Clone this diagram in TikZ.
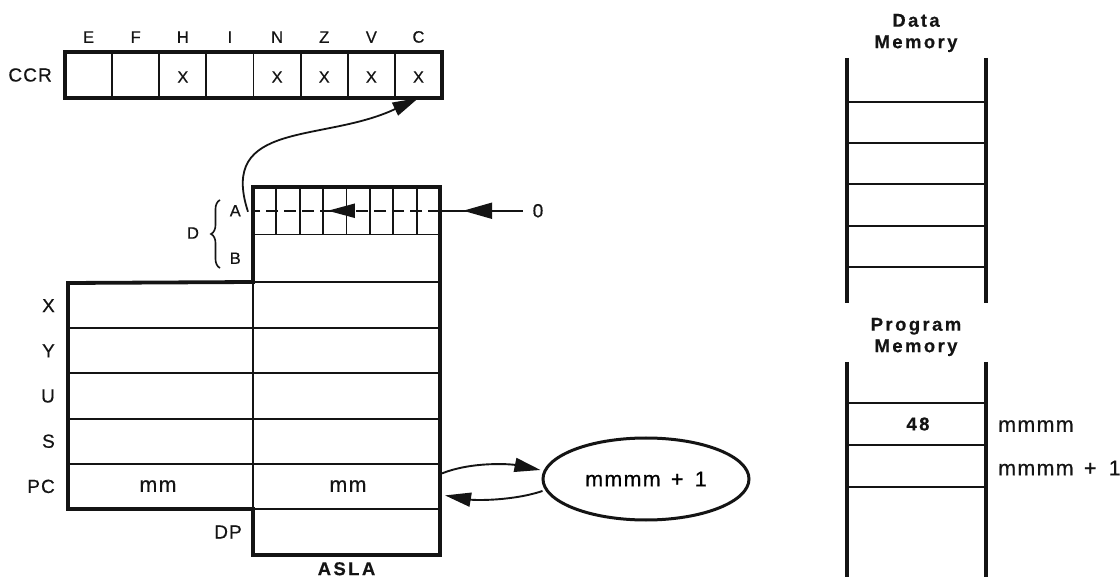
\documentclass[tikz,border=0pt]{standalone}
\usepackage{fontspec}
\setmainfont{Liberation Sans}[LetterSpace=6, FakeBold=0.5]
\usetikzlibrary{calc,positioning,arrows.meta,shapes.geometric,decorations.pathreplacing,decorations.markings}
\definecolor{rgink}{HTML}{141414}
\newcommand{\rgfont}{\fontsize{19}{22}\selectfont}
\newcommand{\rgsmall}{\fontsize{16.5}{19}\selectfont}
\newcommand{\rgwide}{\fontsize{21.5}{24}\selectfont}
\newcommand{\rgbold}{\fontsize{18.5}{21.5}\selectfont\bfseries\addfontfeatures{LetterSpace=13}}
\tikzset{
  rgheavy/.style={draw=rgink, line width=3.8pt},
  rglight/.style={draw=rgink, line width=1.9pt},
  rgtip/.style={-{Triangle[length=26pt,width=14pt]}},
  rgcell/.style={rglight, minimum width=47.125pt, minimum height=46pt, inner sep=0pt, outer sep=0pt},
  rgrow/.style={minimum width=372pt, minimum height=45.2pt, inner sep=0pt, outer sep=0pt},
  rghalf/.style={minimum width=187pt, minimum height=#1, inner sep=0pt, outer sep=0pt},
  rgtag/.style={font=\rgfont, inner sep=0pt, text=rgink},
}

\begin{document}
\begin{tikzpicture}[x=1pt,y=-1pt]
  \fill[white] (0,0) rectangle (1120,577);
  \useasboundingbox (0,0) rectangle (1120,577);

  % condition code register
  \foreach \f/\m [count=\i from 0] in {E/,F/,H/X,I/,N/X,Z/X,V/X,C/X}
    {\node[rgcell] (ccr\f) at ({88.6+47.125*\i},75) {};
     \node[rgtag, font=\rgsmall, above=9pt of ccr\f] (bit\f) {\f};
     \node[rgtag, font=\rgsmall] (mark\f) at ($(ccr\f)+(0,2)$) {\m};}
  \draw[rgheavy] (ccrE.north west) rectangle (ccrC.south east);
  \node[rgtag, left=13pt of ccrE] (ccrtag) {CCR};

  % accumulators A and B
  \node[rghalf=47.5pt] (regA) at (346.5,210.75) {};
  \node[rghalf=47.5pt, below=0pt of regA] (regB) {};
  \foreach \k in {1,...,7}
    {\draw[rglight] ($(regA.north west)+(23.375*\k,0)$) -- ($(regA.south west)+(23.375*\k,0)$);}
  \draw[rglight] (regA.south west) -- (regA.south east);
  \node[rgtag, font=\rgsmall, left=12pt of regA] (tagA) {A};
  \node[rgtag, font=\rgsmall, left=12pt of regB] (tagB) {B};
  \node[rgtag, font=\rgsmall] (tagD) at (193,233) {D};
  \draw[rgink, line width=1.6pt, decorate, decoration={brace, amplitude=9pt}]
    (220,268) -- (220,200);

  % index, stack and program registers
  \foreach \r [count=\i from 0] in {X,Y,U,S,PC}
    {\node[rgrow] (reg\r) at (254,{305.6+45.2*\i}) {};
     \node[rgtag, left=13pt of reg\r] (tag\r) {\r};}
  \foreach \r in {X,Y,U,S}
    {\draw[rglight] (reg\r.south west) -- (reg\r.south east);}
  \node[rghalf=46pt, below=0pt of regPC.south -| regA] (regDP) {};
  \draw[rglight] (regB.south west) -- (regB.south east);
  \draw[rglight] (regB.south west) -- (regDP.north west);
  \draw[rglight] (regDP.north west) -- (regDP.north east);
  \draw[rgheavy, line join=miter]
    (regA.north west) -- (regA.north east) -- (regDP.south east) -- (regDP.south west)
    -- (regDP.north west) -- (regPC.south west) -- (regX.north west) -- (regB.south west) -- cycle;
  \node[rgtag, left=11pt of regDP] (tagDP) {DP};
  \node[rgtag, font=\rgwide] (pchi) at (158,486) {mm};
  \node[rgtag, font=\rgwide] (pclo) at (348,486) {mm};
  \node[rgtag, font=\rgbold, below=7pt of regDP] (opname) {ASLA};

  % shift left, 0 in, bit 7 to carry
  \node[rgtag] (zero) at (538,210.75) {0};
  \draw[rglight, postaction={decorate}, decoration={markings,
        mark=at position 0.72 with {\arrow{Triangle[length=29pt,width=16pt]}}}]
    ($(zero.west)+(-10,0)$) -- (regA.east);
  \draw[rglight, dash pattern=on 12pt off 6pt, postaction={decorate}, decoration={markings,
        mark=at position 0.6 with {\arrow{Triangle[length=27pt,width=14pt]}}}]
    (regA.east) -- (regA.west);
  \draw[rglight, line width=1.8pt, rgtip]
    ($(regA.west)+(-5,1)$) .. controls +(-30,-92) and +(-95,45) .. (ccrC.south);

  % program counter increment
  \node[draw=rgink, line width=3pt, ellipse, minimum width=206pt, minimum height=82pt,
        inner sep=0pt, font=\rgwide] (inc) at (646,479) {mmmm\hspace{3pt} +\hspace{4pt} 1};
  \draw[rglight, rgtip] ($(regPC.east)+(2,-13)$) .. controls +(30,-12) and +(-30,-6) .. ($(inc.west)+(-1,-9)$);
  \draw[rglight, rgtip] ($(inc.west)+(1,12)$) .. controls +(-30,10) and +(30,5) .. ($(regPC.east)+(5,9)$);

  % data memory
  \node[rgtag, font=\rgbold, align=center] (dmtitle) at (916,33) {Data\\Memory};
  \draw[rgheavy] (847,58) -- (847,303) (986,58) -- (986,303);
  \foreach \y in {102,143,184,226,267}
    {\draw[rglight] (847,\y) -- (986,\y);}

  % program memory
  \node[rgtag, font=\rgbold, align=center] (pmtitle) at (916,337) {Program\\Memory};
  \draw[rgheavy] (847,362) -- (847,580) (986,362) -- (986,580);
  \foreach \y in {403,445,487}
    {\draw[rglight] (847,\y) -- (986,\y);}
  \node[rgtag, font=\rgbold] (opcode) at (918,424) {48};
  \node[rgtag, font=\rgwide, anchor=west] (addr) at (998,426) {mmmm};
  \node[rgtag, font=\rgwide, anchor=west] (addrnext) at (998,468) {mmmm\hspace{3pt} +\hspace{5pt} 1};
\end{tikzpicture}
\end{document}
